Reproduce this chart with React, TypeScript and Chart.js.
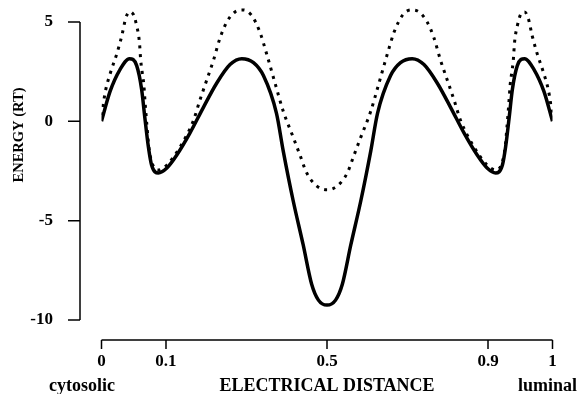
import React, { useEffect, useRef } from "react";
import { Chart, registerables } from "chart.js";

Chart.register(...registerables);

// Solid curve (axis units 0..1 along the drawn x axis)
const SOLID_X = [0, 0.019, 0.041, 0.062, 0.078, 0.089, 0.096, 0.104, 0.111, 0.126, 0.145, 0.167, 0.196, 0.226, 0.255, 0.285, 0.311, 0.337, 0.359, 0.388, 0.403, 0.425, 0.447, 0.466, 0.481, 0.5, 0.519, 0.534, 0.553, 0.575, 0.597, 0.612, 0.641, 0.663, 0.689, 0.715, 0.745, 0.774, 0.804, 0.833, 0.855, 0.874, 0.889, 0.896, 0.904, 0.911, 0.922, 0.938, 0.959, 0.981, 1];
const SOLID_Y = [0, 1.5, 2.6, 3.15, 2.8, 1.6, 0.2, -1.3, -2.2, -2.6, -2.35, -1.7, -0.6, 0.7, 1.9, 2.85, 3.15, 2.95, 2.3, 0.4, -1.5, -4.0, -6.2, -8.2, -9.0, -9.25, -9.0, -8.2, -6.2, -4.0, -1.5, 0.4, 2.3, 2.95, 3.15, 2.85, 1.9, 0.7, -0.6, -1.7, -2.35, -2.6, -2.2, -1.3, 0.2, 1.6, 2.8, 3.15, 2.6, 1.5, 0];

// Dotted curve
const DOT_X = [0, 0.009, 0.02, 0.034, 0.045, 0.054, 0.062, 0.07, 0.078, 0.084, 0.087, 0.09, 0.094, 0.0965, 0.101, 0.105, 0.112, 0.126, 0.145, 0.174, 0.204, 0.218, 0.233, 0.248, 0.263, 0.278, 0.296, 0.314, 0.332, 0.351, 0.366, 0.385, 0.403, 0.425, 0.44, 0.455, 0.477, 0.5, 0.523, 0.545, 0.56, 0.575, 0.597, 0.615, 0.634, 0.649, 0.668, 0.686, 0.704, 0.722, 0.737, 0.752, 0.767, 0.782, 0.796, 0.826, 0.855, 0.874, 0.888, 0.895, 0.899, 0.9035, 0.906, 0.91, 0.913, 0.916, 0.922, 0.93, 0.938, 0.946, 0.955, 0.966, 0.98, 0.991, 1];
const DOT_Y = [0.3, 1.55, 2.45, 3.4, 4.3, 5.2, 5.5, 5.4, 4.8, 4.0, 3.05, 2.5, 1.8, 1.0, -0.3, -1.3, -2.1, -2.45, -2.2, -1.3, 0.05, 1.05, 2.05, 3.05, 4.2, 5.0, 5.5, 5.6, 5.35, 4.5, 3.4, 1.9, 0.5, -0.8, -1.7, -2.6, -3.25, -3.45, -3.25, -2.6, -1.7, -0.8, 0.5, 1.9, 3.4, 4.5, 5.35, 5.6, 5.5, 5.0, 4.2, 3.05, 2.05, 1.05, 0.05, -1.3, -2.2, -2.45, -2.1, -1.3, -0.3, 1.0, 1.8, 2.5, 3.05, 4.0, 4.8, 5.4, 5.5, 5.2, 4.3, 3.4, 2.45, 1.55, 0.3];

const X_TICK_POS = [0, 0.143, 0.5, 0.857, 1];
const X_TICK_LABELS = ["0", "0.1", "0.5", "0.9", "1"];
const Y_TICKS = [5, 0, -5, -10];
const Y_TICK_LABELS = ["5", "0", "-5", "-10"];

const X_TITLE = "ELECTRICAL DISTANCE";
const Y_TITLE = "ENERGY (RT)";
const LEFT_LABEL = "cytosolic";
const RIGHT_LABEL = "luminal";

const FONT = "'Liberation Serif', 'Times New Roman', serif";

const axesPlugin = {
  id: "detachedAxes",
  afterDraw(chart: any) {
    const { ctx, chartArea, scales } = chart;
    const xs = scales.x;
    const ys = scales.y;
    ctx.save();
    ctx.strokeStyle = "#000";
    ctx.lineWidth = 1.5;
    ctx.beginPath();
    const ax = chartArea.left - 21.5;
    const yTop = ys.getPixelForValue(Y_TICKS[0]);
    const yBot = ys.getPixelForValue(Y_TICKS[Y_TICKS.length - 1]);
    ctx.moveTo(ax, yTop);
    ctx.lineTo(ax, yBot);
    Y_TICKS.forEach((v) => {
      const p = ys.getPixelForValue(v);
      ctx.moveTo(ax - 12, p);
      ctx.lineTo(ax, p);
    });
    const ay = chartArea.bottom + 20;
    const x0 = xs.getPixelForValue(X_TICK_POS[0]);
    const x1 = xs.getPixelForValue(X_TICK_POS[X_TICK_POS.length - 1]);
    ctx.moveTo(x0, ay);
    ctx.lineTo(x1, ay);
    X_TICK_POS.forEach((v) => {
      const p = xs.getPixelForValue(v);
      ctx.moveTo(p, ay);
      ctx.lineTo(p, ay + 9);
    });
    ctx.stroke();

    ctx.fillStyle = "#000";
    ctx.font = `bold 18px ${FONT}`;
    ctx.textBaseline = "alphabetic";
    ctx.textAlign = "center";
    ctx.fillText(X_TITLE, xs.getPixelForValue(0.5), 391);
    ctx.fillText(LEFT_LABEL, x0 - 19.5, 391);
    ctx.fillText(RIGHT_LABEL, x1 - 5, 391);

    ctx.translate(19, 135);
    ctx.rotate(-Math.PI / 2);
    ctx.font = `bold 14.5px ${FONT}`;
    ctx.textBaseline = "middle";
    ctx.fillText(Y_TITLE, 0, 0);
    ctx.restore();
  },
};

const zeroPad = (s: any) => {
  s.paddingTop = 0;
  s.paddingBottom = 0;
  s.paddingLeft = 0;
  s.paddingRight = 0;
};

export default function App() {
  const ref = useRef<HTMLCanvasElement | null>(null);

  useEffect(() => {
    if (!ref.current) return;
    const chart = new Chart(ref.current, {
      type: "line",
      data: {
        datasets: [
          {
            label: "solid",
            data: SOLID_X.map((x, i) => ({ x, y: SOLID_Y[i] })),
            borderColor: "#000",
            borderWidth: 3.5,
            pointRadius: 0,
            fill: false,
            cubicInterpolationMode: "monotone",
          },
          {
            label: "dotted",
            data: DOT_X.map((x, i) => ({ x, y: DOT_Y[i] })),
            borderColor: "#000",
            borderWidth: 3,
            borderDash: [3, 5.5],
            pointRadius: 0,
            fill: false,
            cubicInterpolationMode: "monotone",
          },
        ],
      },
      options: {
        responsive: false,
        animation: false,
        devicePixelRatio: 1,
        layout: { padding: { left: 0, right: 25.5, top: 2, bottom: 0 } },
        plugins: {
          legend: { display: false },
          tooltip: { enabled: false },
        },
        scales: {
          x: {
            type: "linear",
            min: 0,
            max: 1,
            afterBuildTicks: (s: any) => {
              s.ticks = X_TICK_POS.map((v) => ({ value: v }));
            },
            afterFit: (s: any) => {
              s.height = 74;
              zeroPad(s);
            },
            ticks: {
              callback: (_v: any, i: number) => X_TICK_LABELS[i],
              font: { family: FONT, weight: "bold", size: 17 },
              color: "#000",
              padding: 31,
              maxRotation: 0,
              autoSkip: false,
            },
            grid: { display: false, drawTicks: false },
            border: { display: false },
          },
          y: {
            type: "linear",
            min: -10,
            max: 6,
            afterBuildTicks: (s: any) => {
              s.ticks = Y_TICKS.map((v) => ({ value: v }));
            },
            afterFit: (s: any) => {
              s.width = 101.5;
              zeroPad(s);
            },
            ticks: {
              callback: (_v: any, i: number) => Y_TICK_LABELS[i],
              font: { family: FONT, weight: "bold", size: 17 },
              color: "#000",
              padding: 48.5,
              autoSkip: false,
            },
            grid: { display: false, drawTicks: false },
            border: { display: false },
          },
        },
      },
      plugins: [axesPlugin],
    } as any);
    return () => chart.destroy();
  }, []);

  return (
    <div style={{ position: "absolute", left: 0, top: 0, width: 578, height: 394, background: "#fff" }}>
      <canvas ref={ref} width={578} height={394} style={{ display: "block" }} />
    </div>
  );
}
